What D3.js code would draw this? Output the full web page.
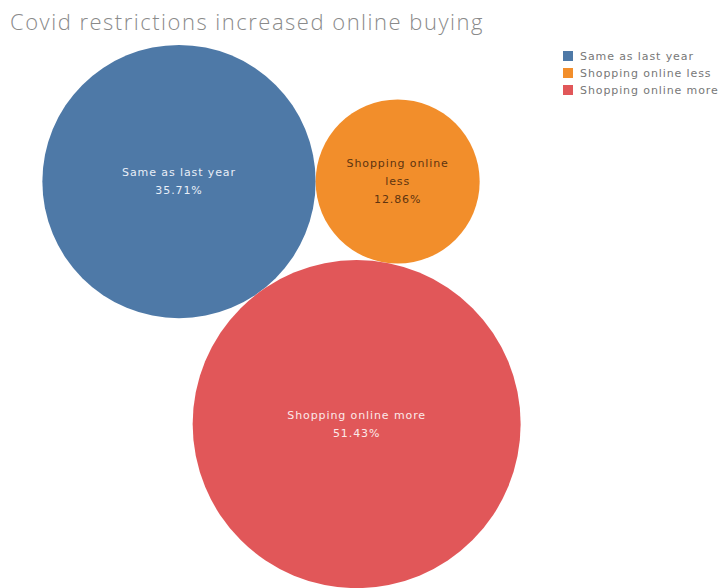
<!DOCTYPE html>
<html>
<head>
<meta charset="utf-8">
<script src="https://cdn.jsdelivr.net/npm/d3@7"></script>
<style>
  body { margin: 0; background: #fff; }
  svg { display: block; }
</style>
</head>
<body>
<svg id="chart" width="728" height="588"></svg>
<script>
// Share of respondents per answer (percent)
const categories = ["Same as last year", "Shopping online less", "Shopping online more"];
const shares = [35.71, 12.86, 51.43];
const colors = ["#4e79a7", "#f28e2b", "#e15759"];
const labelColors = ["#e8eef7", "#5e3410", "#fbe9e9"];
const title = "Covid restrictions increased online buying";

const W = 728, H = 588;
const pane = { x0: 0, x1: 563, y0: 45, y1: 588 };
const titleFont = "'Open Sans', 'DejaVu Sans', sans-serif";
const font = "'DejaVu Sans', 'Open Sans', sans-serif";
const spacing = "0.9px";

const svg = d3.select("#chart");

// bubble area proportional to share
const radius = d3.scaleSqrt().domain([0, d3.max(shares)]).range([0, 164]);

const nodes = categories.map((c, i) => ({ cat: c, value: shares[i], r: radius(shares[i]), i }));
d3.packSiblings(nodes);
// keep the largest bubble underneath the two smaller ones
if (nodes[2].y < 0) nodes.forEach(n => { n.y = -n.y; });

// centre the packed group inside the pane
const minX = d3.min(nodes, n => n.x - n.r), maxX = d3.max(nodes, n => n.x + n.r);
const minY = d3.min(nodes, n => n.y - n.r), maxY = d3.max(nodes, n => n.y + n.r);
const dx = (pane.x0 + pane.x1) / 2 - (minX + maxX) / 2;
const dy = (pane.y0 + pane.y1) / 2 - (minY + maxY) / 2;

const g = svg.append("g").attr("transform", `translate(${dx},${dy})`);

g.selectAll("circle")
  .data(nodes)
  .join("circle")
  .attr("cx", d => d.x)
  .attr("cy", d => d.y)
  .attr("r", d => d.r)
  .attr("fill", d => colors[d.i]);

// label text: wrap the category name to the bubble's width, then the share
const labelSize = 11, lineH = 18;
const measurer = svg.append("text")
  .attr("font-family", font).attr("font-size", labelSize)
  .style("letter-spacing", spacing);
function textWidth(s) { measurer.text(s); return measurer.node().getComputedTextLength(); }
function wrap(str, maxW) {
  const words = str.split(" ");
  const lines = [];
  let cur = "";
  words.forEach(w => {
    const t = cur ? cur + " " + w : w;
    if (cur && textWidth(t) > maxW) { lines.push(cur); cur = w; }
    else cur = t;
  });
  if (cur) lines.push(cur);
  return lines;
}

nodes.forEach(n => {
  const lines = wrap(n.cat, n.r * 1.45).concat([d3.format(".2f")(n.value) + "%"]);
  const t = g.append("text")
    .attr("text-anchor", "middle")
    .attr("font-family", font)
    .attr("font-size", labelSize)
    .style("letter-spacing", spacing)
    .attr("fill", labelColors[n.i]);
  lines.forEach((l, k) => {
    t.append("tspan")
      .attr("x", n.x)
      .attr("y", n.y + (k - (lines.length - 1) / 2) * lineH)
      .attr("dominant-baseline", "central")
      .text(l);
  });
});
measurer.remove();

// title
svg.append("text")
  .attr("x", 10)
  .attr("y", 30)
  .attr("font-family", titleFont)
  .attr("font-weight", 300)
  .attr("font-size", 22)
  .style("letter-spacing", "1.5px")
  .attr("fill", "#8a8a8a")
  .text(title);

// legend
const legend = svg.append("g").attr("transform", "translate(563,56)");
const rows = legend.selectAll("g")
  .data(categories)
  .join("g")
  .attr("transform", (d, i) => `translate(0,${i * 17})`);
rows.append("rect")
  .attr("x", 0).attr("y", -5)
  .attr("width", 10).attr("height", 10)
  .attr("fill", (d, i) => colors[i]);
rows.append("text")
  .attr("x", 17)
  .attr("y", 0)
  .attr("dominant-baseline", "central")
  .attr("font-family", font)
  .attr("font-size", 11)
  .style("letter-spacing", spacing)
  .attr("fill", "#777")
  .text(d => d);
</script>
</body>
</html>
